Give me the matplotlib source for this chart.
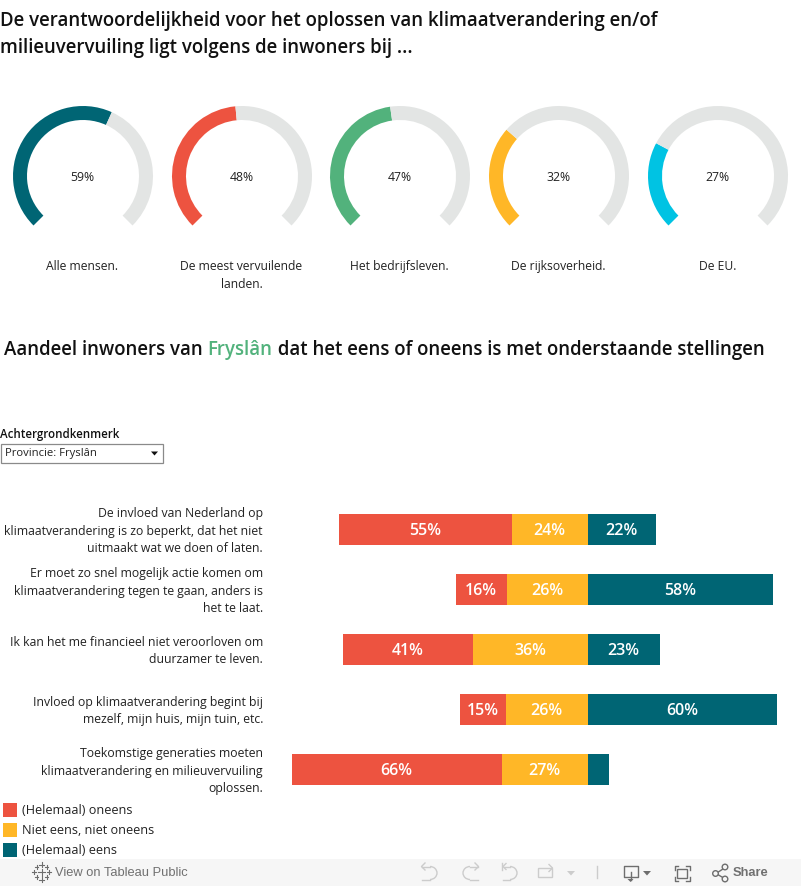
import matplotlib
matplotlib.use("Agg")
import matplotlib.pyplot as plt
from matplotlib.patches import Rectangle, Arc, Circle, Polygon
import numpy as np

W, H = 801, 886
plt.rcParams['font.family'] = ['Open Sans', 'DejaVu Sans']

TEAL = '#006574'; RED = '#ed5340'; AMBER = '#ffb727'; GREEN = '#52b27c'; CYAN = '#00c3e3'; GREY = '#e3e5e4'
INK = '#222222'

gauge_labels = ['Alle mensen.', 'De meest vervuilende\nlanden.', 'Het bedrijfsleven.', 'De rijksoverheid.', 'De EU.']
gauge_values = [59, 48, 47, 32, 27]
gauge_colors = [TEAL, RED, GREEN, AMBER, CYAN]
gauge_centers = [83, 242, 400, 559, 718]

statements = [
    'De invloed van Nederland op\nklimaatverandering is zo beperkt, dat het niet\nuitmaakt wat we doen of laten.',
    'Er moet zo snel mogelijk actie komen om\nklimaatverandering tegen te gaan, anders is\nhet te laat.',
    'Ik kan het me financieel niet veroorloven om\nduurzamer te leven.',
    'Invloed op klimaatverandering begint bij\nmezelf, mijn huis, mijn tuin, etc.',
    'Toekomstige generaties moeten\nklimaatverandering en milieuvervuiling\noplossen.',
]
disagree = [54.8, 16.2, 41.1, 14.6, 66.4]
neutral = [24.0, 25.6, 36.4, 25.9, 27.2]
agree = [21.6, 58.4, 22.8, 59.8, 6.6]
legend_labels = ['(Helemaal) oneens', 'Niet eens, niet oneens', '(Helemaal) eens']
legend_colors = [RED, AMBER, TEAL]

fig = plt.figure(figsize=(W / 100, H / 100), dpi=100, facecolor='white')

def axes_px(x0, y0, x1, y1, **kw):
    return fig.add_axes([x0 / W, 1 - y1 / H, (x1 - x0) / W, (y1 - y0) / H], **kw)

ov = axes_px(0, 0, W, H)
ov.set_xlim(0, W); ov.set_ylim(H, 0); ov.axis('off')

TS = 13.42; TW = 600
ov.text(0, 20.5, 'De verantwoordelijkheid voor het oplossen van klimaatverandering en/of',
        fontsize=TS, fontweight=TW, color='#111111', va='center')
ov.text(0, 47.5, 'milieuvervuiling ligt volgens de inwoners bij ...',
        fontsize=TS, fontweight=TW, color='#111111', va='center')

sub_y = 350
t1 = ov.text(4, sub_y, 'Aandeel inwoners van ', fontsize=13.46, fontweight=TW, color='#111111', va='center')
r = fig.canvas.get_renderer()
x2 = ov.transData.inverted().transform(t1.get_window_extent(r))[1, 0]
t2 = ov.text(x2, sub_y, 'Fryslân', fontsize=13.46, fontweight=TW, color=GREEN, va='center')
x3 = ov.transData.inverted().transform(t2.get_window_extent(r))[1, 0]
ov.text(x3, sub_y, ' dat het eens of oneens is met onderstaande stellingen', fontsize=13.46,
        fontweight=TW, color='#111111', va='center')

R, GY = 70, 176
for cx, v, c, lab in zip(gauge_centers, gauge_values, gauge_colors, gauge_labels):
    a = axes_px(cx - R, GY - R, cx + R, GY + R)
    a.pie([v * 0.75, (100 - v) * 0.75, 25], colors=[c, GREY, 'none'], startangle=225, counterclock=False,
          radius=1, wedgeprops=dict(width=14 / R, linewidth=0))
    a.set_xlim(-1, 1); a.set_ylim(-1, 1); a.set_aspect('equal')
    a.patch.set_alpha(0)
    ov.text(cx - 0.5, GY + 1.5, f'{v}%', fontsize=8.8, color=INK, ha='center', va='center')
    ov.text(cx - 0.5, 260, lab, fontsize=8.75, color=INK, ha='center', va='top', linespacing=1.46)

ov.text(0, 434.5, 'Achtergrondkenmerk', fontsize=8.3, fontweight=600, color='#111111', va='center')
ov.add_patch(Rectangle((1, 443.5), 162, 19, fc='white', ec='#8a8a8a', lw=0.9))
ov.text(5, 453.5, 'Provincie: Fryslân', fontsize=8.1, color=INK, va='center')
ov.add_patch(Polygon([(151, 451.5), (158, 451.5), (154.5, 455.5)], fc='#111111', ec='none'))

ZERO, SCALE = 588, 3.16
bx = axes_px(0, 499.5, W, 799.5)
bx.set_xlim(-ZERO / SCALE, (W - ZERO) / SCALE)
bx.set_ylim(len(statements) - 0.5, -0.5)
bx.axis('off')
ypos = np.arange(len(statements))
d, n, g = map(np.array, (disagree, neutral, agree))
h = 31 / 60
bx.barh(ypos, d, left=-(d + n), height=h, color=RED, lw=0)
bx.barh(ypos, n, left=-n, height=h, color=AMBER, lw=0)
bx.barh(ypos, g, left=0, height=h, color=TEAL, lw=0)
for y, a_, b_, c_ in zip(ypos, d, n, g):
    for val, mid in ((a_, -(a_ / 2 + b_)), (b_, -b_ / 2), (c_, c_ / 2)):
        if val >= 10:
            bx.text(mid - 0.2, y + 0.025, f'{val:.0f}%', color='white', fontsize=11.5, fontweight=600, ha='center', va='center')
for y, s in zip(ypos, statements):
    bx.annotate(s, xy=(0, y), xycoords=bx.get_yaxis_transform(), xytext=(263 / W, y + 0.03),
                textcoords=bx.get_yaxis_transform(), ha='right', va='center', fontsize=8.87,
                color=INK, linespacing=1.44)

for yy, lab, col in zip([810, 830, 850], legend_labels, legend_colors):
    ov.add_patch(Rectangle((3, yy - 7), 14, 14, fc=col, ec='none'))
    ov.text(22, yy + 0.5, lab, fontsize=9.1, color=INK, va='center')

ov.add_patch(Rectangle((0, 859), W, 27, fc='#f6f6f6', ec='none', zorder=0))
ic = '#cccccc'; dk = '#6e6e6e'
ov.text(55, 872.5, 'View on Tableau Public', fontsize=9.3, color='#707070', va='center', family='Liberation Sans')
ov.text(733, 872.5, 'Share', fontsize=9.3, color='#707070', fontweight='bold', va='center', family='Liberation Sans')
for (x, y, s) in [(41.5, 872, 3.5), (41.5, 864.5, 2.2), (41.5, 879.5, 2.2), (34, 872, 2.2), (49, 872, 2.2),
                  (36.5, 867, 1.8), (46.5, 867, 1.8), (36.5, 877, 1.8), (46.5, 877, 1.8)]:
    ov.plot([x - s, x + s], [y, y], color=dk, lw=0.8)
    ov.plot([x, x], [y - s, y + s], color=dk, lw=0.8)
ov.add_patch(Arc((430, 873), 14, 13, theta1=-90, theta2=90, ec=ic, lw=1))
ov.plot([422, 430], [866.5, 866.5], color=ic, lw=1); ov.plot([422, 430], [879.5, 879.5], color=ic, lw=1)
ov.plot([425, 421.5, 425], [863, 866.5, 870], color=ic, lw=1)
ov.add_patch(Arc((470, 873), 14, 13, theta1=90, theta2=270, ec=ic, lw=1))
ov.plot([470, 478], [866.5, 866.5], color=ic, lw=1); ov.plot([470, 478], [879.5, 879.5], color=ic, lw=1)
ov.plot([475, 478.5, 475], [863, 866.5, 870], color=ic, lw=1)
ov.add_patch(Arc((510, 873), 14, 13, theta1=-90, theta2=90, ec=ic, lw=1))
ov.plot([504, 510], [866.5, 866.5], color=ic, lw=1); ov.plot([503, 510], [879.5, 879.5], color=ic, lw=1)
ov.plot([506, 503, 506], [863.5, 866.5, 869.5], color=ic, lw=1); ov.plot([502, 502], [863, 870], color=ic, lw=1)
ov.add_patch(Rectangle((538, 868), 14, 9, fc='none', ec=ic, lw=1))
ov.plot([549, 552.5, 549], [864.5, 868, 871.5], color=ic, lw=1)
ov.add_patch(Polygon([(567, 871), (575, 871), (571, 875.5)], fc=ic, ec='none'))
ov.plot([596.5, 596.5], [866, 878], color=ic, lw=1)
ov.plot([630, 623.5, 623.5, 637.5, 637.5, 632], [877, 877, 866, 866, 877, 877], color=dk, lw=1)
ov.plot([630.5, 630.5], [872, 880], color=dk, lw=1)
ov.add_patch(Polygon([(627.5, 879), (633.5, 879), (630.5, 882)], fc=dk, ec='none'))
ov.add_patch(Polygon([(643, 871), (651, 871), (647, 875.5)], fc=dk, ec='none'))
for xs, ys in [([678, 674.5, 674.5], [866, 866, 870]), ([686, 689.5, 689.5], [866, 866, 870]),
               ([678, 674.5, 674.5], [880.5, 880.5, 876.5]), ([686, 689.5, 689.5], [880.5, 880.5, 876.5])]:
    ov.plot(xs, ys, color=dk, lw=1)
ov.add_patch(Rectangle((677, 868.5), 10, 9.5, fc='none', ec=dk, lw=1))
ov.plot([724.5, 716, 724.5], [868, 873.5, 878.5], color=dk, lw=1)
for x, y, rr in [(725, 867, 2.8), (715.5, 873.5, 2.8), (725, 879, 2.8)]:
    ov.add_patch(Circle((x, y), rr, fc='#f6f6f6', ec=dk, lw=1, zorder=3))

ov.set_zorder(5); ov.patch.set_alpha(0)
fig.savefig('out.png', dpi=100)
